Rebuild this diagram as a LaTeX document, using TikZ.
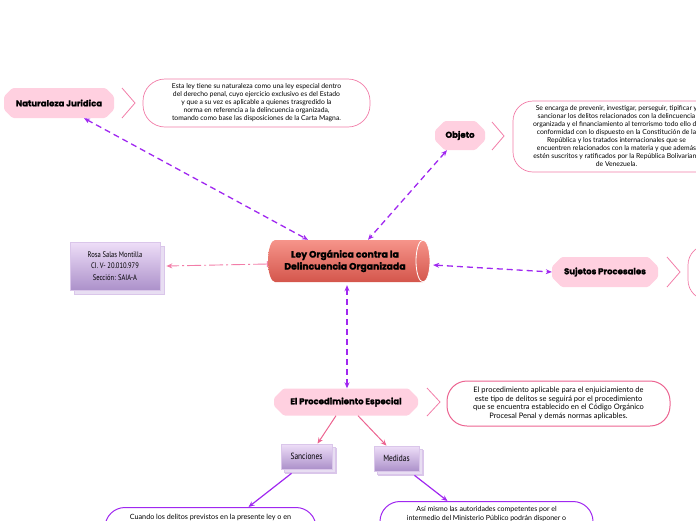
\documentclass[tikz,border=0pt]{standalone}
\usepackage{fontspec}
\setmainfont{Lato}
\newfontfamily\hd{Poppins}[BoldFeatures={FakeBold=1.2}]
\newfontfamily\nar{PT Sans}[FakeStretch=0.82]
\usetikzlibrary{arrows.meta,shapes.misc,shadows}
\definecolor{pinkfill}{RGB}{255,208,224}
\definecolor{pinkline}{RGB}{242,125,168}
\definecolor{pinkdark}{RGB}{236,100,145}
\definecolor{purp}{RGB}{160,40,240}
\definecolor{cyltop}{RGB}{246,148,138}
\definecolor{cylbot}{RGB}{212,86,76}
\definecolor{lavtop}{RGB}{238,222,248}
\definecolor{lavbot}{RGB}{172,145,202}
\definecolor{lavline}{RGB}{218,198,234}
\definecolor{lavshadow}{RGB}{232,222,242}
\tikzset{
  topic/.style={chamfered rectangle, chamfered rectangle xsep=5pt, chamfered rectangle ysep=5pt,
    fill=pinkfill, rounded corners=1.5pt, inner sep=0pt,
    font=\hd\bfseries\fontsize{8.5}{9}\selectfont},
  chev/.style={draw=pinkline, line width=0.8pt},
  tbox/.style={draw=pinkline, line width=0.7pt, fill=white, align=center,
    font=\fontsize{6.8}{8}\selectfont, inner sep=0pt},
  lav/.style={top color=lavtop, bottom color=lavbot, draw=lavline, line width=0.7pt,
    copy shadow={shadow xshift=4pt, shadow yshift=-4pt, fill=lavshadow, draw=lavline},
    font=\nar\fontsize{8}{11.5}\selectfont, align=center, inner sep=0pt},
  conn/.style={draw=purp, line width=1.3pt, dash pattern=on 6pt off 4pt,
    {Stealth[length=6pt,width=5pt]}-{Stealth[length=6pt,width=5pt]}},
  pinkarr/.style={draw=pinkdark, line width=1pt, -{Stealth[length=6pt,width=5pt]}},
  purarr/.style={draw=purp, line width=1.2pt, -{Stealth[length=6pt,width=5pt]}},
}
\begin{document}
\begin{tikzpicture}[x=1pt,y=-1pt]
\useasboundingbox (0,0) rectangle (696,520);
\clip (0,0) rectangle (696,520);

% central cylinder
\shade[top color=cyltop, bottom color=cylbot] (275,240) -- (423,240)
  arc[start angle=-90,end angle=90,x radius=7,y radius=21] -- (275,282)
  arc[start angle=90,end angle=270,x radius=7,y radius=21] -- cycle;
\draw[white, line width=0.8pt] (423,261) ellipse[x radius=7, y radius=21];
\node[font=\hd\bfseries\fontsize{9.3}{12}\selectfont, align=center,
  minimum width=154, minimum height=42, inner sep=0pt] (cyl) at (345,261)
  {Ley Orgánica contra la\\Delincuencia Organizada};

% topics
\node[topic, minimum width=110, minimum height=30] (nat) at (59,103) {Naturaleza Juridica};
\node[topic, minimum width=50, minimum height=29] (obj) at (460,135.5) {Objeto};
\node[topic, minimum width=106, minimum height=30] (suj) at (605,272) {Sujetos Procesales};
\node[topic, minimum width=144, minimum height=27] (proc) at (346,402) {El Procedimiento Especial};

% chevrons
\draw[chev] (122,88) -- (135,103) -- (122,118);
\draw[chev] (492,122) -- (504,136) -- (492,150);
\draw[chev] (667,257) -- (680,272) -- (667,287);
\draw[chev] (427,388) -- (440,402) -- (427,416);

% text boxes
\node[tbox, minimum width=227, minimum height=48, rounded corners=22pt] (natT) at (256.5,103)
  {Esta ley tiene su naturaleza como una ley especial dentro\\
   del derecho penal, cuyo ejercicio exclusivo es del Estado\\
   y que a su vez es aplicable a quienes trasgredido la\\
   norma en referencia a la delincuencia organizada,\\
   tomando como base las disposiciones de la Carta Magna.};
\node[tbox, minimum width=207, minimum height=71, rounded corners=20pt] (objT) at (616.5,136.5)
  {Se encarga de prevenir, investigar, perseguir, tipificar y\\
   sancionar los delitos relacionados con la delincuencia\\
   organizada y el financiamiento al terrorismo todo ello de\\
   conformidad con lo dispuesto en la Constitución de la\\
   República y los tratados internacionales que se\\
   encuentren relacionados con la materia y que además\\
   estén suscritos y ratificados por la República Bolivariana\\
   de Venezuela.};
\node[tbox, minimum width=212, minimum height=55, rounded corners=20pt] (sujT) at (794,272.5) {};
\node[tbox, draw=pinkdark, line width=1pt, minimum width=223, minimum height=45, rounded corners=20pt,
  font=\fontsize{7.5}{8.7}\selectfont] (procT) at (558.5,403.5)
  {El procedimiento aplicable para el enjuiciamiento de\\
   este tipo de delitos se seguirá por el procedimiento\\
   que se encuentra establecido en el Código Orgánico\\
   Procesal Penal y demás normas aplicables.};

% lavender boxes
\node[lav, minimum width=90, minimum height=48] (rosa) at (115,266)
  {Rosa Salas Montilla\\CI. V- 20.010.979\\Sección: SAIA-A};
\node[lav, minimum width=51, minimum height=25, font=\nar\fontsize{9}{10}\selectfont,
  copy shadow={shadow xshift=3pt, shadow yshift=-3pt, fill=lavshadow, draw=lavline}] (san) at (306.5,456.5) {Sanciones};
\node[lav, minimum width=45, minimum height=25, font=\nar\fontsize{9}{10}\selectfont,
  copy shadow={shadow xshift=3pt, shadow yshift=-3pt, fill=lavshadow, draw=lavline}] (med) at (396.5,458.5) {Medidas};

% bottom boxes
\node[draw=purp, line width=1pt, fill=white, minimum width=211, minimum height=70,
  rounded corners=20pt, anchor=north] (sanT) at (210.5,507) {};
\node[font=\fontsize{7.2}{8.7}\selectfont, anchor=north, inner sep=0pt] (sanTx) at (210.5,514)
  {Cuando los delitos previstos en la presente ley o en};
\node[draw=purp, line width=1pt, fill=white, minimum width=213, minimum height=70,
  rounded corners=20pt, anchor=north] (medT) at (486.5,501) {};
\node[font=\fontsize{7}{8.7}\selectfont, align=center, anchor=north, inner sep=0pt] (medTx) at (486.5,506)
  {Así mismo las autoridades competentes por el\\intermedio del Ministerio Público podrán disponer o};

% connectors
\draw[conn] ([xshift=25pt]nat.south) -- ([xshift=-37pt]cyl.north);
\draw[conn] ([xshift=-13pt]obj.south) -- ([xshift=23pt]cyl.north);
\draw[conn] ([shift={(11,4)}]cyl.east) -- (suj.west);
\draw[conn] ([xshift=2pt,yshift=-3pt]cyl.south) -- ([xshift=1pt]proc.north);
\draw[draw=pinkline, line width=0.9pt, dash pattern=on 14pt off 3pt on 2pt off 3pt,
  {Bar[width=6pt]}-{Stealth[length=6pt,width=5pt]}] ([shift={(0,3)}]cyl.west) -- ([xshift=6pt]rosa.east);
\draw[pinkarr] ([xshift=-10pt]proc.south) -- ([xshift=11pt]san.north);
\draw[pinkarr] ([xshift=12pt]proc.south) -- ([xshift=-10pt]med.north);
\draw[purarr] ([shift={(-15,4)}]san.south) -- ([xshift=38pt]sanT.north);
\draw[purarr] ([shift={(18,4)}]med.south) -- ([xshift=-39pt]medT.north);
\end{tikzpicture}
\end{document}
